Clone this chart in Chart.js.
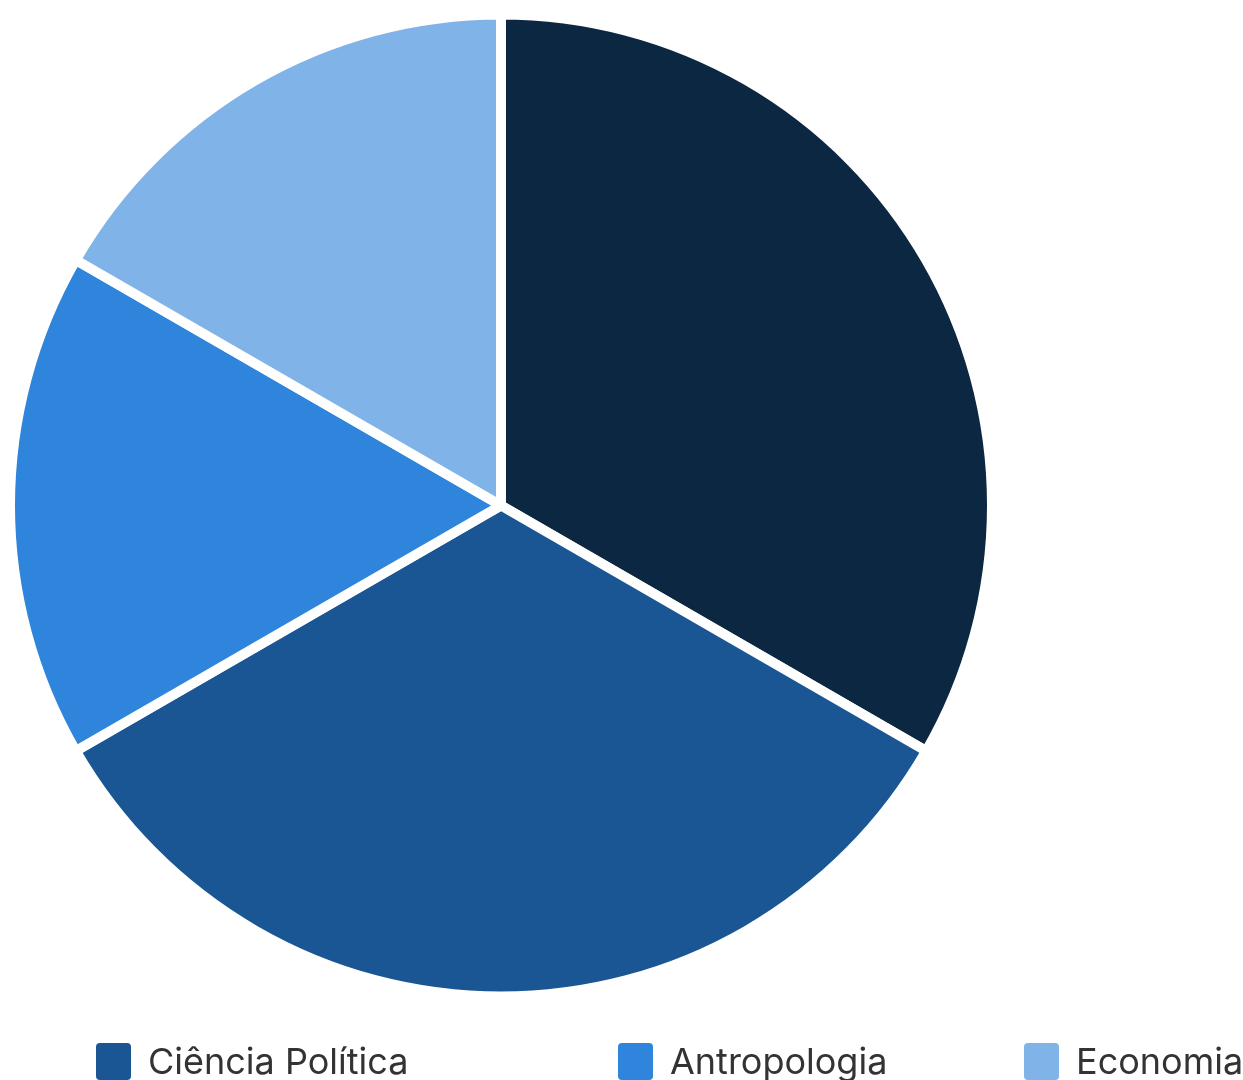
<!DOCTYPE html>
<html>
<head>
<meta charset="utf-8">
<script src="https://cdn.jsdelivr.net/npm/chart.js@4.4.1/dist/chart.umd.min.js"></script>
<style>
  html, body { margin: 0; padding: 0; background: #ffffff; overflow: hidden; }
  #wrap { position: relative; width: 1243px; height: 1080px; }
  #c { position: absolute; left: 0; top: 0; }
  .leg { position: absolute; top: 1043px; display: flex; align-items: flex-start; font-family: Inter, "Noto Sans", sans-serif; font-size: 36px; color: #333333; line-height: 1; white-space: nowrap; }
  .leg .box { width: 35px; height: 37px; border-radius: 4px; margin-right: 17px; flex: none; }
</style>
</head>
<body>
<div id="wrap">
  <canvas id="c" width="1243" height="1080"></canvas>
  <div id="legend"></div>
</div>
<script>
const categories = ["", "Ciência Política", "Antropologia", "Economia"];
const values = [2, 2, 1, 1];
const colors = ["#0c2742", "#1b5694", "#2f84db", "#80b3e8"];
const legendLeft = [null, 96, 618, 1024];

const ctx = document.getElementById('c').getContext('2d');
new Chart(ctx, {
  type: 'pie',
  data: {
    labels: categories,
    datasets: [{
      data: values,
      backgroundColor: colors,
      borderColor: '#ffffff',
      borderWidth: 10
    }]
  },
  options: {
    responsive: false,
    animation: false,
    layout: { padding: { left: 5, right: 246, top: 9.5, bottom: 78.5 } },
    plugins: {
      legend: { display: false },
      tooltip: { enabled: false }
    }
  }
});

const legendEl = document.getElementById('legend');
categories.forEach((lab, i) => {
  if (!lab) return;
  const item = document.createElement('div');
  item.className = 'leg';
  item.style.left = legendLeft[i] + 'px';
  const b = document.createElement('div');
  b.className = 'box';
  b.style.background = colors[i];
  const t = document.createElement('div');
  t.textContent = lab;
  item.appendChild(b);
  item.appendChild(t);
  legendEl.appendChild(item);
});
</script>
</body>
</html>
